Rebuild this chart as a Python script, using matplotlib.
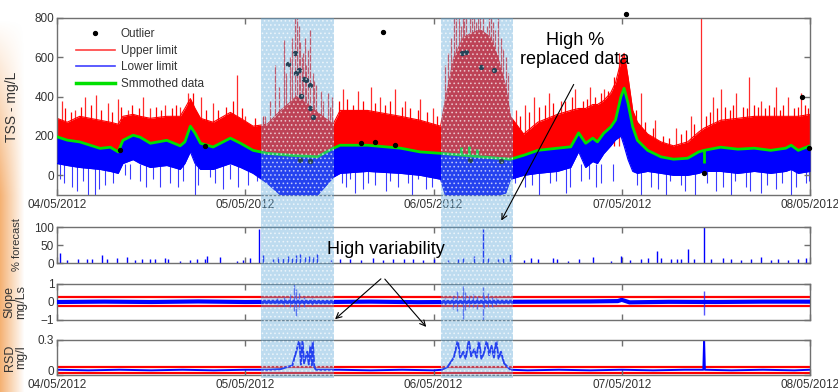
import datetime as dt
import numpy as np
import matplotlib
matplotlib.use('Agg')
import matplotlib.pyplot as plt
import matplotlib.dates as mdates
from matplotlib.patches import Rectangle, FancyArrowPatch
from matplotlib.lines import Line2D

plt.rcParams['font.family'] = ['Liberation Sans', 'DejaVu Sans']
plt.rcParams['hatch.linewidth'] = 0.7

# ---- data (hours after 04/05/2012 00:00) ----
hours = [0, 1.3, 2.9, 5.5, 6.8, 7.8, 8.4, 9.7, 10.6, 11.9, 14.0, 15.7, 16.3, 17.0,
         17.6, 18.3, 19.9, 22.1, 23.4, 25.0, 26.8, 28.5, 29.7, 30.5, 32.0, 33.2,
         35.2, 36.1, 39.6, 43.8, 46.3, 48.9, 49.5, 50.6, 51.8, 52.7, 54.0, 55.3,
         56.2, 57.2, 57.8, 59.5, 61.3, 63.8, 65.5, 66.5, 67.4, 68.3, 68.9, 69.7,
         70.6, 71.2, 71.9, 72.3, 72.8, 73.4, 74.0, 75.3, 77.0, 78.6, 80.4, 81.8,
         82.5, 84.6, 86.8, 88.9, 91.0, 92.9, 93.6, 94.5, 96]
smoothed = [196, 179, 170, 137, 143, 119, 178, 204, 194, 163, 178, 150, 170, 250,
            215, 163, 144, 189, 163, 127, 112, 106, 102, 100, 97, 94,
            137, 153, 153, 138, 119, 112, 110, 106, 102, 99, 94, 90,
            87, 84, 82, 102, 127, 138, 145, 216, 163, 189, 170, 214,
            246, 281, 400, 443, 367, 246, 178, 127, 94, 82, 87, 119,
            127, 143, 133, 138, 127, 138, 153, 127, 150]
upper = [290, 270, 300, 280, 270, 260, 300, 310, 300, 290, 300, 300, 340, 390,
         340, 290, 270, 320, 290, 250, 260, 330, 370, 400, 360, 320,
         260, 330, 330, 300, 280, 250, 380, 600, 700, 720, 740, 700,
         600, 450, 300, 210, 270, 310, 330, 340, 340, 360, 360, 380,
         420, 470, 580, 620, 500, 330, 270, 210, 170, 150, 170, 220,
         240, 280, 290, 300, 300, 300, 300, 300, 310]
lower = [60, 50, 40, 30, 20, 10, 60, 80, 60, 40, 50, 30, 60, 120,
         60, 30, 30, 60, 40, 10, -40, -100, -100, -100, -100, -100,
         -10, 10, 20, 10, 0, -20, -100, -100, -100, -100, -100, -100,
         -100, -90, -20, 0, 10, 20, 40, 120, 40, 70, 60, 110,
         150, 180, 200, 150, 80, 20, 10, 20, 10, 0, 0, 10,
         20, 20, 10, 20, 10, 20, 30, 10, 20]

# tall red spikes (incl. the dense forest inside the two shaded periods)
up_spike_h = [0.6, 2.3, 3.6, 5.0, 6.5, 7.8, 9.1, 11.0, 11.9, 13.8, 15.7, 16.7, 18.3,
              19.9, 22.9, 24.0, 27.8, 28.9, 29.7, 30.3, 30.6, 31.0, 31.4, 31.8, 32.3,
              32.8, 33.6, 34.5, 35.1, 36.4, 38.4, 40.0, 41.2, 43.1, 44.4, 46.3, 47.9,
              49.5, 50.2, 50.6, 51.2, 51.7, 52.2, 52.7, 53.2, 53.7, 54.3, 54.8, 55.3,
              55.9, 56.6, 57.2, 58.5, 59.7, 60.8, 62.7, 64.2, 66.1, 68.0, 69.8, 71.6,
              72.5, 74.4, 76.3, 78.9, 80.8, 82.1, 83.6, 84.6, 86.6, 88.2, 89.7, 91.7,
              93.2, 94.9,
              26.5, 27.2, 28.3, 29.2, 30.0, 30.8, 31.2, 31.6, 32.0, 32.6, 33.0, 33.9,
              34.8, 49.8, 50.9, 51.5, 51.9, 52.4, 52.9, 53.4, 53.9, 54.5, 55.1, 55.6,
              56.2, 56.9, 57.5]
up_spike_v = [380, 330, 400, 410, 370, 390, 330, 400, 340, 360, 350, 420, 400,
              370, 510, 300, 560, 690, 600, 820, 820, 680, 620, 560, 740,
              480, 430, 420, 400, 440, 430, 450, 400, 440, 380, 390, 340,
              560, 700, 820, 820, 820, 820, 820, 820, 820, 820, 760, 820,
              740, 700, 600, 330, 360, 400, 420, 380, 440, 450, 440, 620,
              560, 420, 280, 240, 300, 820, 400, 440, 420, 500, 380, 450,
              400, 420,
              300, 380, 450, 520, 700, 760, 600, 700, 640, 520, 460, 380,
              350, 620, 820, 760, 820, 700, 820, 780, 820, 700, 820, 780,
              820, 640, 520]
# short red spikes that make the ragged top of the band
up2_h = [1.0, 1.8, 3.0, 4.3, 5.6, 7.0, 8.2, 9.6, 10.4, 12.6, 13.2, 14.6, 15.2, 17.3,
         19.0, 20.5, 21.5, 22.4, 23.6, 25.2, 26.3, 36.0, 37.0, 37.8, 39.0, 40.6,
         41.8, 42.5, 44.0, 45.0, 46.0, 47.2, 48.4, 58.0, 59.0, 60.2, 61.5, 62.2,
         63.2, 64.8, 65.6, 67.0, 67.6, 68.6, 69.3, 70.2, 71.0, 73.0, 73.8, 75.0,
         76.0, 77.2, 78.0, 79.6, 80.2, 81.2, 82.8, 83.2, 84.2, 85.2, 85.8, 86.2,
         87.4, 88.0, 88.8, 89.4, 90.2, 90.8, 91.4, 92.2, 92.6, 93.9, 94.5, 95.3,
         95.8]
up2_v = [340, 320, 350, 360, 330, 320, 350, 360, 340, 350, 330, 340, 360, 420,
         330, 330, 350, 380, 340, 290, 300, 380, 390, 360, 380, 370,
         360, 380, 350, 340, 330, 320, 300, 280, 300, 320, 350, 360,
         370, 380, 400, 380, 390, 400, 420, 430, 500, 380, 330, 270,
         240, 200, 190, 210, 230, 260, 300, 320, 340, 350, 330, 360,
         350, 340, 360, 350, 340, 360, 350, 330, 360, 340, 350, 360,
         340]
lo_spike_h = [0.4, 1.9, 4.0, 4.9, 6.1, 8.7, 10.6, 13.1, 15.4, 17.6, 19.5, 21.1, 23.1,
              36.8, 38.0, 39.7, 41.9, 43.5, 45.3, 47.0, 59.7, 61.4, 62.9, 64.9, 66.8,
              68.7, 70.9, 74.4, 75.7, 77.6, 79.5, 81.4, 84.0, 85.9, 87.8, 89.7, 91.7,
              93.6, 95.5,
              0.9, 2.6, 3.3, 5.3, 7.2, 9.3, 11.3, 12.2, 14.4, 16.0, 18.0, 20.2, 22.0,
              24.4, 25.5, 36.3, 37.4, 39.0, 40.5, 42.5, 44.8, 46.0, 47.8, 58.4, 60.5,
              63.6, 65.4, 67.8, 69.4, 73.9, 76.6, 78.2, 80.0, 82.9, 84.9, 86.4, 88.4,
              90.5, 92.4, 94.2, 95.9]
lo_spike_v = [-20, -60, -100, -100, -50, 0, -30, -60, -60, -100, -10, -70, -60,
              -60, -90, -40, -80, -60, -100, -70, -60, -100, -40, -90, -30,
              -60, -30, -100, -60, -100, -50, -100, -80, -100, -60, -90, -70,
              -100, -40,
              -40, -80, -30, -70, -40, -20, -60, -20, -40, -30, -50, -40, -20,
              -50, -30, -40, -20, -70, -50, -30, -40, -20, -60, -40, -50,
              -30, -60, -20, -40, -50, -70, -30, -80, -40, -60, -30, -80,
              -50, -40, -60, -30]
green_bump_h = [51.5, 52.5, 53.5, 82.5]
green_bump_lo = [102, 99, 96, 61]
green_bump_hi = [145, 150, 135, 127]

outlier_h = [29.4, 30.4, 30.5, 30.8, 31.5, 31.8, 32.2, 31.1, 32.3, 32.6, 41.5,
             52.1, 51.6, 54.0, 55.7, 95.0, 72.6, 8.0, 18.9, 31.0, 32.3, 38.7,
             40.6, 43.1, 52.7, 56.6, 82.5, 95.9]
outlier_v = [566, 622, 520, 536, 490, 485, 459, 403, 342, 296, 730,
             627, 622, 551, 536, 398, 820, 130, 150, 80, 75, 165,
             170, 155, 80, 75, 10, 140]

fc_h = [0.4, 1.3, 2.7, 3.8, 4.5, 5.7, 6.4, 7.7, 8.9, 10.0, 10.9, 11.9, 12.5, 13.8,
        14.2, 15.7, 17.0, 17.9, 18.9, 19.1, 20.8, 23.0, 23.7, 24.6, 25.7, 26.2,
        27.6, 28.2, 28.8, 29.4, 29.9, 30.5, 31.0, 31.6, 32.1, 32.6, 33.2,
        34.9, 36.1, 37.4, 38.7, 40.3, 41.6, 42.9, 44.2, 45.4, 46.7, 48.0,
        49.8, 51.1, 51.8, 53.1, 54.3, 54.9, 56.2, 56.9, 57.8, 59.5, 60.4, 61.3,
        63.2, 63.8, 65.1, 66.5, 68.3, 70.6, 71.9, 73.1, 74.4, 75.4, 76.5, 77.0,
        78.3, 79.1, 79.5, 80.4, 81.2, 82.5, 83.4, 84.9, 85.9, 87.2, 88.5, 89.7,
        91.0, 91.9, 93.2, 94.5, 95.5]
fc_v = [29, 8, 10, 12, 10, 22, 12, 15, 18, 8, 12, 10, 12, 14,
        10, 6, 8, 10, 12, 20, 18, 6, 8, 14, 95, 22,
        12, 18, 15, 20, 14, 22, 25, 18, 20, 16, 24,
        8, 10, 12, 8, 14, 8, 12, 10, 12, 8, 10,
        8, 12, 15, 20, 95, 15, 10, 14, 25, 8, 14, 10,
        14, 12, 6, 10, 18, 6, 20, 8, 10, 14, 32, 14,
        12, 10, 12, 40, 12, 100, 10, 14, 10, 8, 10, 16,
        8, 12, 8, 10, 14]

slope_h = [0, 6, 12, 18, 24, 28, 34, 40, 46, 50, 56, 62, 68, 71.5, 72, 73, 78,
           84, 90, 96]
slope_v = [0.0, 0.02, 0.0, 0.03, 0.0, 0.01, 0.0, 0.02, -0.01, 0.0, 0.01, 0.02,
           0.03, 0.05, 0.12, -0.02, 0.01, 0.0, 0.02, 0.02]
slope_spk_h = [28.0, 29.0, 29.7, 30.2, 30.5, 30.9, 31.5, 32.5, 49.5, 50.5, 51.0,
               51.8, 52.0, 52.5, 53.0, 53.5, 54.3, 54.5, 55.0, 55.5, 56.0, 82.5]
slope_spk_lo = [-0.15, -0.2, -0.3, -0.5, -0.75, -0.4, -0.25, -0.15, -0.15, -0.4, -0.5,
                -0.95, -0.45, -0.3, -0.25, -0.4, -1.0, -0.35, -0.3, -0.25, -0.15, -0.7]
slope_spk_hi = [0.2, 0.3, 0.45, 1.0, 0.7, 0.5, 0.3, 0.2, 0.2, 0.35, 0.6,
                0.9, 0.55, 0.4, 0.45, 0.35, 0.85, 0.4, 0.5, 0.3, 0.25, 0.6]

rsd_h = [0, 4, 8, 12, 16, 20, 24, 27, 28.5, 29.4, 30.0, 30.9, 31.1, 31.3, 31.5,
         31.9, 32.1, 32.3, 32.5, 32.6, 32.8, 33.0, 36, 40, 44, 48, 49.1, 49.8,
         50.6, 51.1, 51.4, 51.8, 52.1, 52.5, 52.8, 53.2, 53.5, 53.8, 54.1, 54.4,
         54.8, 55.1, 55.4, 55.7, 56.0, 56.3, 56.6, 57.0, 57.8, 60, 64, 68, 72,
         76, 80, 82.4, 82.5, 82.6, 86, 90, 94, 96]
rsd_v = [0.045, 0.04, 0.045, 0.04, 0.045, 0.04, 0.045, 0.045, 0.05, 0.07, 0.08,
         0.30, 0.09, 0.30, 0.10, 0.20, 0.09, 0.25, 0.08, 0.30, 0.07, 0.045, 0.045,
         0.04, 0.045, 0.04, 0.045, 0.07, 0.15, 0.30, 0.15, 0.20, 0.14, 0.30, 0.16,
         0.22, 0.15, 0.30, 0.14, 0.18, 0.30, 0.17, 0.25, 0.15, 0.30, 0.14, 0.20,
         0.10, 0.045, 0.04, 0.045, 0.04, 0.045, 0.04, 0.045, 0.045, 0.30, 0.045,
         0.04, 0.045, 0.04, 0.045]

slope_limits = [0.3, -0.2]
rsd_limits = [0.065, 0.02]
bands_h = [(26.0, 35.3), (49.0, 58.1)]

# ---- layout helpers (pixel positions of the reference) ----
W, H = 838, 392
fig = plt.figure(figsize=(W / 100, H / 100), dpi=100)


def fx(x):
    return x / W


def fy(y):
    return 1 - y / H


t0 = mdates.date2num(dt.datetime(2012, 5, 4))


def tx(h):
    return t0 + np.asarray(h, dtype=float) / 24.0


# orange slide edge on the left
gax = fig.add_axes([0, 0, 28 / W, 1])
gax.axis('off')
rows = np.linspace(0, 1, H)
cols = np.linspace(0, 1, 28)
va = np.clip((rows - 0.05) / 0.45, 0, 1)
ha = np.clip(1 - cols / 0.85, 0, 1)
img = np.zeros((H, 28, 4))
img[..., 0], img[..., 1], img[..., 2] = 0.95, 0.62, 0.32
img[..., 3] = va[:, None] * ha[None, :] * 0.8
gax.imshow(img, aspect='auto', extent=(0, 1, 0, 1))

L, R = 57, 810
ax1 = fig.add_axes([fx(L), fy(195), fx(R) - fx(L), (195 - 18) / H])
ax2 = fig.add_axes([fx(L), fy(263), fx(R) - fx(L), (263 - 227) / H])
ax3 = fig.add_axes([fx(L), fy(320), fx(R) - fx(L), (320 - 284) / H])
ax4 = fig.add_axes([fx(L), fy(375), fx(R) - fx(L), (375 - 340) / H])


def style(ax, labels=True):
    for s in ax.spines.values():
        s.set_color('#707070')
        s.set_linewidth(1.0)
    ax.tick_params(direction='in', length=4, width=1, color='#707070',
                   top=True, right=True, labelsize=8.5, labelcolor='#333333',
                   pad=2, labelbottom=labels)
    ax.tick_params(axis='x', pad=3)
    ax.set_xlim(t0, t0 + 4)
    ax.xaxis.set_major_locator(mdates.DayLocator())
    ax.xaxis.set_major_formatter(mdates.DateFormatter('%d/%m/%Y'))


for a, lab in [(ax1, True), (ax2, False), (ax3, False), (ax4, True)]:
    style(a, lab)

# ---- top panel ----
x = tx(hours)
ax1.vlines(tx(up_spike_h), 150, up_spike_v, color='#ff2a2a', lw=0.9, zorder=1)
ax1.vlines(tx(up2_h), 150, up2_v, color='#ff0000', lw=0.9, zorder=1)
ax1.vlines(tx(lo_spike_h), lo_spike_v, 60, color='#3a3aff', lw=0.8, zorder=1)
ax1.fill_between(x, smoothed, upper, color='#ff0000', lw=0, zorder=2)
ax1.plot(x, upper, color='#ff0000', lw=0.8, zorder=2)
ax1.fill_between(x, lower, smoothed, color='#0000ff', lw=0, zorder=3)
ax1.plot(x, lower, color='#0000ff', lw=0.8, zorder=3)
ax1.plot(x, smoothed, color='#00e000', lw=2.0, zorder=4)
ax1.vlines(tx(green_bump_h), green_bump_lo, green_bump_hi, color='#00e000', lw=2.0, zorder=4)
ax1.plot(tx(outlier_h), outlier_v, ls='', marker='o', ms=2.8, color='black',
         zorder=5, clip_on=False)
ax1.set_ylim(-100, 800)
ax1.set_yticks([0, 200, 400, 600, 800])
ax1.set_ylabel('TSS - mg/L', fontsize=10, color='#333333')
ax1.yaxis.set_label_coords(-0.05, 0.5)

handles = [Line2D([], [], ls='', marker='o', ms=2.8, color='black'),
           Line2D([], [], color='#ff4040', lw=1.2),
           Line2D([], [], color='#4040ff', lw=1.2),
           Line2D([], [], color='#00e000', lw=2.5)]
ax1.legend(handles, ['Outlier', 'Upper limit', 'Lower limit', 'Smmothed data'],
           loc='upper left', bbox_to_anchor=((76 - L) / (R - L), 1 - 10 / 177),
           frameon=False, fontsize=8.5, handlelength=3.3, handletextpad=0.5,
           labelspacing=0.4, borderpad=0, borderaxespad=0, labelcolor='#333333')

# ---- % forecast ----
ax2.vlines(tx(fc_h), 0, fc_v, color='#0000ff', lw=1.0)
ax2.set_ylim(0, 100)
ax2.set_yticks([0, 50, 100])
ax2.set_ylabel('% forecast', fontsize=8, color='#333333')
ax2.yaxis.set_label_coords(-0.047, 0.5)

# ---- slope ----
for v in slope_limits:
    ax3.axhline(v, color='#ff0000', lw=1.6, zorder=1)
ax3.vlines(tx(slope_spk_h), slope_spk_lo, slope_spk_hi, color='#2a2aff', lw=1.0, alpha=0.8, zorder=2)
ax3.plot(tx(slope_h), slope_v, color='#0000ff', lw=3.0, zorder=3)
ax3.set_ylim(-1, 1)
ax3.set_yticks([-1, 0, 1])
ax3.set_ylabel('Slope\nmg/Ls', fontsize=9, color='#333333', linespacing=0.9)
ax3.yaxis.set_label_coords(-0.04, 0.5)

# ---- RSD ----
for v in rsd_limits:
    ax4.axhline(v, color='#ff0000', lw=1.6, zorder=1)
ax4.plot(tx(rsd_h), rsd_v, color='#0000ff', lw=1.4, zorder=2)
ax4.set_ylim(0, 0.3)
ax4.set_yticks([0, 0.3])
ax4.set_yticklabels(['0', '0.3'])
ax4.get_yticklabels()[0].set_va('baseline')
ax4.set_ylabel('RSD\nmg/l', fontsize=9, color='#333333', linespacing=0.9)
ax4.yaxis.set_label_coords(-0.04, 0.5)

# ---- shaded periods over all panels ----
for h0, h1 in bands_h:
    x0 = fx(L + (R - L) * h0 / 96)
    x1 = fx(L + (R - L) * h1 / 96)
    fig.add_artist(Rectangle((x0, fy(378)), x1 - x0, fy(18) - fy(378),
                             transform=fig.transFigure, facecolor='#5ca7d9',
                             alpha=0.4, lw=0, zorder=10))
    fig.add_artist(Rectangle((x0, fy(378)), x1 - x0, fy(18) - fy(378),
                             transform=fig.transFigure, facecolor='none',
                             edgecolor='white', hatch='....', lw=0, alpha=0.6, zorder=11))

# ---- annotations ----
fig.text(fx(575), fy(50), 'High %\nreplaced data', fontsize=13, ha='center',
         va='center', linespacing=1.1, zorder=12)
fig.text(fx(327), fy(250), 'High variability', fontsize=13, ha='left',
         va='center', zorder=12)
for (a, b) in [((575, 82), (500, 223)), ((383, 277), (333, 321)),
               ((383, 277), (428, 329))]:
    fig.add_artist(FancyArrowPatch((fx(a[0]), fy(a[1])), (fx(b[0]), fy(b[1])),
                                   transform=fig.transFigure, arrowstyle='->',
                                   mutation_scale=10, lw=0.8, color='black',
                                   zorder=12))

fig.savefig('out.png', dpi=100)
